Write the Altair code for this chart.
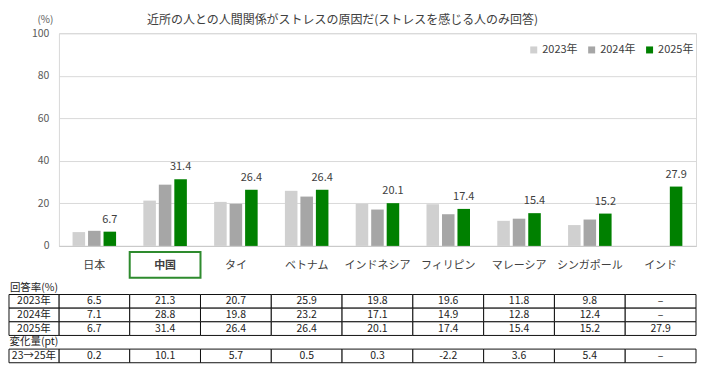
import altair as alt
import pandas as pd

title_text = "近所の人との人間関係がストレスの原因だ(ストレスを感じる人のみ回答)"
categories = ["日本", "中国", "タイ", "ベトナム", "インドネシア", "フィリピン", "マレーシア", "シンガポール", "インド"]
years = ["2023年", "2024年", "2025年"]
v2023 = [6.5, 21.3, 20.7, 25.9, 19.8, 19.6, 11.8, 9.8, None]
v2024 = [7.1, 28.8, 19.8, 23.2, 17.1, 14.9, 12.8, 12.4, None]
v2025 = [6.7, 31.4, 26.4, 26.4, 20.1, 17.4, 15.4, 15.2, 27.9]
change = [0.2, 10.1, 5.7, 0.5, 0.3, -2.2, 3.6, 5.4, None]
change_label = "23→25年"
section_labels = ["回答率(%)", "変化量(pt)"]
y_ticks = [0, 20, 40, 60, 80, 100]
highlight = "中国"
colors = ["#d0d0d0", "#a6a6a6", "#008000"]

FONT = "Noto Sans CJK JP"
W, H = 638, 213

# ---- bar data
bar_rows = []
for yr, vals in zip(years, [v2023, v2024, v2025]):
    for c, v in zip(categories, vals):
        if v is not None:
            bar_rows.append({"国": c, "年": yr, "値": v})
bars_df = pd.DataFrame(bar_rows)

x_bar = alt.X(
    "国:N", sort=categories,
    scale=alt.Scale(domain=categories, paddingInner=0, paddingOuter=0),
    axis=alt.Axis(title=None, labelAngle=0, ticks=False, tickSize=0, labelPadding=14,
                  labelFont=FONT, labelFontSize=11, labelColor="#404040",
                  labelFontWeight=alt.condition("datum.value == '中国'", alt.value("bold"), alt.value("normal")),
                  domainColor="#c8c8c8", grid=False),
)
xoff = alt.XOffset("年:N", scale=alt.Scale(domain=years, paddingInner=0.19, paddingOuter=0.88))
y_bar = alt.Y(
    "値:Q", scale=alt.Scale(domain=[0, 100], nice=False),
    axis=alt.Axis(values=y_ticks, title="(%)", titleAngle=0, titleX=-14, titleY=-14,
                  titleFont=FONT, titleFontSize=10, titleFontWeight="normal", titleColor="#595959",
                  titleAlign="center", titleBaseline="middle",
                  labelFont=FONT, labelFontSize=10.5, labelColor="#595959", labelPadding=10,
                  ticks=False, domain=False, gridColor="#d9d9d9"),
)
color = alt.Color(
    "年:N", scale=alt.Scale(domain=years, range=colors),
    legend=alt.Legend(title=None, orient="none", legendX=470, legendY=11, direction="horizontal",
                      columns=3, symbolType="square", symbolSize=49, symbolStrokeWidth=0,
                      labelFont=FONT, labelFontSize=11, labelColor="#404040", labelOffset=3,
                      columnPadding=8),
)

bars = alt.Chart(bars_df).mark_bar().encode(x=x_bar, xOffset=xoff, y=y_bar, color=color)
labels = (
    alt.Chart(bars_df)
    .transform_filter(alt.datum["年"] == years[2])
    .mark_text(font=FONT, fontSize=11, color="#404040", baseline="alphabetic", dy=-9)
    .encode(x=x_bar, xOffset=xoff, y=y_bar, text=alt.Text("値:Q", format=".1f"))
)
box = (
    alt.Chart(pd.DataFrame({"国": [highlight]}))
    .mark_rect(fill="transparent", stroke="#2e8b2e", strokeWidth=2)
    .encode(x=x_bar, y=alt.value(H + 6), y2=alt.value(H + 32))
)
bars_group = alt.layer(bars, labels, box)

# ---- table
row_keys = ["s1"] + years + ["s2", change_label]
y_tab = alt.Y("行:N", scale=alt.Scale(domain=row_keys, range=[H + 35, H + 117], paddingInner=0, paddingOuter=0), axis=None)
x_tab = alt.X("国:N", scale=alt.Scale(domain=categories, paddingInner=0, paddingOuter=0), axis=None)

def fmt(v):
    return "–" if v is None else f"{v:.1f}"

tab_rows = []
for key, vals in zip(years + [change_label], [v2023, v2024, v2025, change]):
    for c, v in zip(categories, vals):
        tab_rows.append({"国": c, "行": key, "文字": fmt(v)})
tab_df = pd.DataFrame(tab_rows)

cells = alt.Chart(tab_df).mark_rect(fill="white", stroke="#111111", strokeWidth=1).encode(x=x_tab, y=y_tab)
cell_text = alt.Chart(tab_df).mark_text(font=FONT, fontSize=10.5, color="#222222").encode(x=x_tab, y=y_tab, text="文字:N")
table_group = alt.layer(cells, cell_text)

# ---- header column
hdr_rows = [{"列": "h", "行": "s1", "文字": section_labels[0], "枠": 0}]
for yr in years:
    hdr_rows.append({"列": "h", "行": yr, "文字": yr, "枠": 1})
hdr_rows.append({"列": "h", "行": "s2", "文字": section_labels[1], "枠": 0})
hdr_rows.append({"列": "h", "行": change_label, "文字": change_label, "枠": 1})
hdr_df = pd.DataFrame(hdr_rows)

x_hdr = alt.X("列:N", scale=alt.Scale(domain=["h"], range=[-50, 0], paddingInner=0, paddingOuter=0), axis=None)
hdr_cells = (
    alt.Chart(hdr_df).transform_filter(alt.datum["枠"] == 1)
    .mark_rect(fill="white", stroke="#111111", strokeWidth=1)
    .encode(x=x_hdr, y=y_tab)
)
hdr_text = alt.Chart(hdr_df).mark_text(font=FONT, fontSize=10.5, color="#222222").encode(x=x_hdr, y=y_tab, text="文字:N")
hdr_group = alt.layer(hdr_cells, hdr_text)

chart = (
    alt.layer(bars_group, table_group, hdr_group)
    .resolve_scale(x="independent", y="independent")
    .properties(
        width=W, height=H, padding={"left": 0, "top": 6, "right": 0, "bottom": 0},
        title=alt.TitleParams(text=title_text, font=FONT, fontSize=12, fontWeight="normal",
                              color="#404040", anchor="middle", dx=-35, offset=-13),
    )
    .configure_view(stroke="#d9d9d9")
)

chart.save("out.html", embed_options={"renderer": "svg", "actions": False})
